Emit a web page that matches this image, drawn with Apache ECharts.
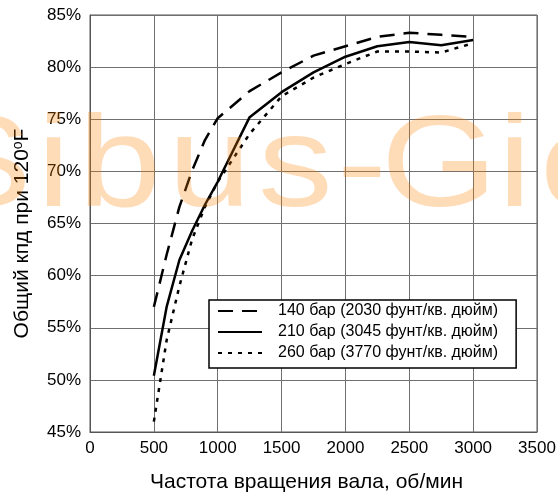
<!DOCTYPE html>
<html>
<head>
<meta charset="utf-8">
<script src="https://cdn.jsdelivr.net/npm/echarts@6/dist/echarts.min.js"></script>
<style>
  html, body { margin: 0; padding: 0; background: #fff; }
  #chart { width: 558px; height: 493px; }
</style>
</head>
<body>
<div id="chart"></div>
<script>
// частота вращения вала, об/мин
const rpm = [500, 600, 700, 800, 900, 1000, 1250, 1500, 1750, 2000, 2250, 2500, 2750, 3000]
// общий кпд, %
const eff140 = [57.0, 62.0, 66.6, 70.1, 73.0, 75.1, 77.7, 79.5, 81.1, 82.0, 82.9, 83.3, 83.1, 82.9]
const eff210 = [50.4, 57.0, 61.5, 64.3, 66.8, 69.0, 75.2, 77.6, 79.5, 81.0, 82.0, 82.4, 82.1, 82.6]
const eff260 = [46.0, 53.8, 59.0, 63.5, 66.6, 69.0, 73.6, 77.2, 79.0, 80.3, 81.5, 81.5, 81.4, 82.3]

const seriesNames = [
  '140 бар (2030 фунт/кв. дюйм)',
  '210 бар (3045 фунт/кв. дюйм)',
  '260 бар (3770 фунт/кв. дюйм)'
]

const FONT = 'Liberation Sans'

const toPairs = (vals) => rpm.map((x, i) => [x, vals[i]])

// водяной знак, по буквам
const wm = [['S', -68], ['i', 37], ['b', 78], ['u', 168], ['s', 258], ['-', 337], ['G', 381], ['i', 498], ['o', 540]]

const myChart = echarts.init(document.getElementById('chart'))

const option = {
  animation: false,
  textStyle: { fontFamily: FONT },
  grid: {
    left: 90,
    right: 21,
    top: 15,
    bottom: 61,
    outerBoundsMode: 'none',
    show: true,
    borderColor: '#555',
    borderWidth: 1
  },
  legend: {
    orient: 'vertical',
    left: 209,
    top: 300,
    padding: [3, 18, 7, 8],
    itemWidth: 44,
    itemHeight: 14,
    itemGap: 5,
    backgroundColor: '#fff',
    borderColor: '#000',
    borderWidth: 1.5,
    itemStyle: { opacity: 0 },
    textStyle: {
      fontFamily: FONT,
      fontSize: 16,
      color: '#000',
      lineHeight: 16,
      padding: [0, 0, 0, 11]
    },
    data: seriesNames
  },
  xAxis: {
    type: 'value',
    min: 0,
    max: 3500,
    interval: 500,
    name: 'Частота вращения вала, об/мин',
    nameLocation: 'middle',
    nameGap: 40,
    nameTextStyle: { fontFamily: FONT, fontSize: 21, color: '#000', padding: [0, 14, 0, 0] },
    axisLine: { show: true, lineStyle: { color: '#555', width: 1 } },
    axisTick: { show: false },
    axisLabel: {
      fontFamily: FONT,
      fontSize: 17,
      color: '#000',
      margin: 8,
      alignMinLabel: 'center',
      alignMaxLabel: 'center',
      formatter: (v) => String(v)
    },
    splitLine: { show: true, lineStyle: { color: '#707070', width: 1 } }
  },
  yAxis: {
    type: 'value',
    min: 45,
    max: 85,
    interval: 5,
    name: '{a|Общий кпд при 120}{s|o}{a|F}',
    nameLocation: 'middle',
    nameGap: 57,
    nameTextStyle: {
      padding: [0, 20, 0, 0],
      rich: {
        a: { fontFamily: FONT, fontSize: 21, color: '#000' },
        s: { fontFamily: FONT, fontSize: 14, color: '#000', verticalAlign: 'top', padding: [0, 0, 8, 0] }
      }
    },
    axisLine: { show: true, lineStyle: { color: '#555', width: 1 } },
    axisTick: { show: false },
    axisLabel: { fontFamily: FONT, fontSize: 17, color: '#000', margin: 9, formatter: '{value}%' },
    splitLine: { show: true, lineStyle: { color: '#707070', width: 1 } }
  },
  series: [
    {
      name: seriesNames[0],
      type: 'line',
      symbol: 'none',
      data: toPairs(eff140),
      itemStyle: { color: '#000' },
      lineStyle: { color: '#000', width: 2.5, type: [15, 9] }
    },
    {
      name: seriesNames[1],
      type: 'line',
      symbol: 'none',
      data: toPairs(eff210),
      itemStyle: { color: '#000' },
      lineStyle: { color: '#000', width: 2.5, type: 'solid' }
    },
    {
      name: seriesNames[2],
      type: 'line',
      symbol: 'none',
      data: toPairs(eff260),
      itemStyle: { color: '#000' },
      lineStyle: { color: '#000', width: 2.5, type: [4, 6] }
    }
  ],
  graphic: wm.map(([ch, x]) => ({
    type: 'text',
    x: x,
    y: 170,
    scaleX: 1.15,
    z: 100,
    silent: true,
    style: {
      text: ch,
      fontFamily: FONT,
      fontSize: 130,
      fill: 'rgba(255, 128, 0, 0.28)',
      align: 'left',
      verticalAlign: 'middle'
    }
  }))
}

myChart.setOption(option)
</script>
</body>
</html>
